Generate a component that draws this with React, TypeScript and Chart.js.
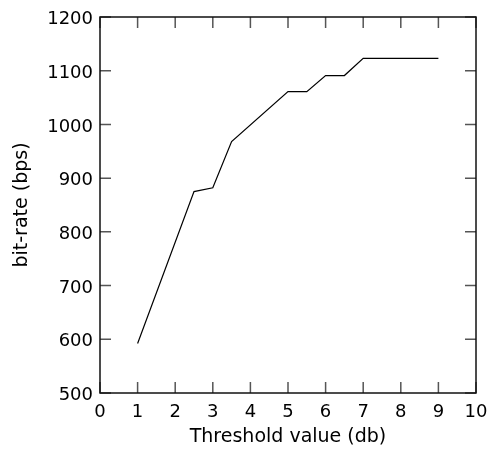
import React, { useEffect, useRef } from "react";
import { Chart, registerables } from "chart.js";

Chart.register(...registerables);

const thresholds = [1, 2.5, 3, 3.5, 5, 5.5, 6, 6.5, 7, 9];
const bitrates = [592, 875, 882, 968, 1061, 1061, 1091, 1091, 1123, 1123];
const xTickValues = [0, 1, 2, 3, 4, 5, 6, 7, 8, 9, 10];
const yTickValues = [500, 600, 700, 800, 900, 1000, 1100, 1200];
const xTitle = "Threshold value (db)";
const yTitle = "bit-rate (bps)";

const FONT = "'DejaVu Sans', 'Liberation Sans', sans-serif";

const framePlugin = {
  id: "frameTicksTitles",
  afterDraw(chart: any) {
    const { ctx, chartArea: a, scales } = chart;
    const L = 11;
    ctx.save();
    ctx.strokeStyle = "#555";
    ctx.lineWidth = 1.5;
    ctx.beginPath();
    xTickValues.forEach((v) => {
      const px = scales.x.getPixelForValue(v);
      ctx.moveTo(px, a.bottom);
      ctx.lineTo(px, a.bottom - L);
      ctx.moveTo(px, a.top);
      ctx.lineTo(px, a.top + L);
    });
    yTickValues.forEach((v) => {
      const py = scales.y.getPixelForValue(v);
      ctx.moveTo(a.left, py);
      ctx.lineTo(a.left + L, py);
      ctx.moveTo(a.right, py);
      ctx.lineTo(a.right - L, py);
    });
    ctx.stroke();
    ctx.strokeStyle = "#111";
    ctx.lineWidth = 1.5;
    ctx.strokeRect(a.left, a.top, a.right - a.left, a.bottom - a.top);

    ctx.fillStyle = "#000";
    ctx.font = `19px ${FONT}`;
    ctx.textAlign = "center";
    ctx.textBaseline = "alphabetic";
    ctx.fillText(xTitle, (a.left + a.right) / 2, a.bottom + 49);
    ctx.translate(27, (a.top + a.bottom) / 2);
    ctx.rotate(-Math.PI / 2);
    ctx.fillText(yTitle, 0, 0);
    ctx.restore();
  },
};

export default function App() {
  const ref = useRef<HTMLCanvasElement | null>(null);
  useEffect(() => {
    if (!ref.current) return;
    const chart = new Chart(ref.current, {
      type: "line",
      data: {
        datasets: [
          {
            data: thresholds.map((t, i) => ({ x: t, y: bitrates[i] })),
            borderColor: "#000",
            borderWidth: 1.2,
            pointRadius: 0,
            fill: false,
            tension: 0,
          },
        ],
      },
      options: {
        animation: false,
        responsive: true,
        maintainAspectRatio: false,
        layout: { padding: { top: 17, right: 12, left: 0, bottom: 0 } },
        plugins: { legend: { display: false }, tooltip: { enabled: false } },
        scales: {
          x: {
            type: "linear",
            min: 0,
            max: 10,
            afterBuildTicks: (s: any) => {
              s.ticks = xTickValues.map((v) => ({ value: v }));
            },
            afterFit: (s: any) => {
              s.height = 56;
              s.paddingRight = 0;
              s.paddingLeft = 0;
            },
            grid: { display: false, drawTicks: false },
            border: { display: false },
            ticks: {
              color: "#000",
              font: { family: FONT, size: 18 },
              padding: 9,
              maxRotation: 0,
              autoSkip: false,
              callback: (v: any) => String(v),
            },
          },
          y: {
            type: "linear",
            min: 500,
            max: 1200,
            afterBuildTicks: (s: any) => {
              s.ticks = yTickValues.map((v) => ({ value: v }));
            },
            afterFit: (s: any) => {
              s.width = 100;
              s.paddingTop = 0;
              s.paddingBottom = 0;
            },
            grid: { display: false, drawTicks: false },
            border: { display: false },
            ticks: {
              color: "#000",
              font: { family: FONT, size: 18 },
              padding: 7,
              labelOffset: 2.5,
              autoSkip: false,
              callback: (v: any) => String(v),
            },
          },
        },
      },
      plugins: [framePlugin],
    });
    return () => chart.destroy();
  }, []);
  return (
    <div style={{ position: "fixed", left: 0, top: 0, width: 488, height: 449, background: "#fff" }}>
      <canvas ref={ref} />
    </div>
  );
}
